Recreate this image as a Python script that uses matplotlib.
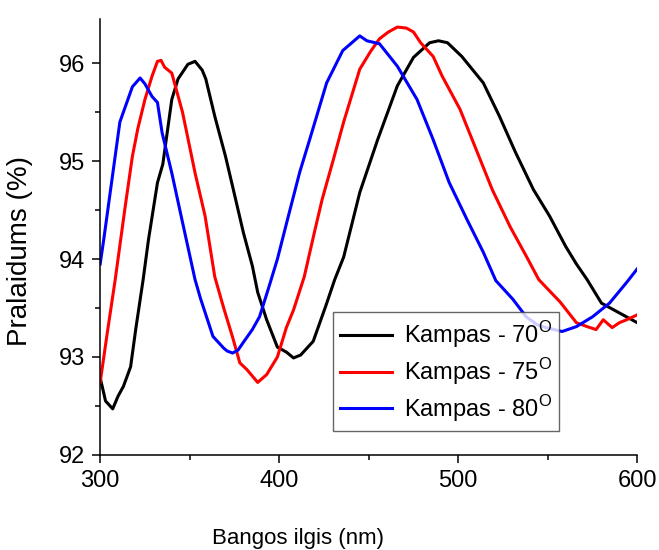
import matplotlib
matplotlib.use("Agg")
import matplotlib.pyplot as plt
from matplotlib.ticker import MultipleLocator

plt.rcParams['font.family'] = ['Liberation Sans', 'DejaVu Sans']
plt.rcParams['mathtext.fontset'] = 'custom'
plt.rcParams['mathtext.rm'] = 'Liberation Sans'

# Kampas - 70
x70 = [300, 303, 307, 310, 313, 317, 320, 324, 327, 332, 335, 340, 343.5, 349, 353, 357, 359, 364, 370, 374,
       380, 385, 388, 393, 399, 404, 408, 412, 419, 426, 431, 436, 445, 455, 466, 475, 484, 489, 494, 502,
       514, 523, 532, 542, 551, 560, 566, 572, 580, 590, 600]
y70 = [92.79, 92.55, 92.47, 92.6, 92.7, 92.9, 93.3, 93.79, 94.2, 94.78, 94.97, 95.63, 95.84, 95.99, 96.02,
       95.93, 95.84, 95.46, 95.05, 94.74, 94.27, 93.93, 93.66, 93.38, 93.1, 93.05, 92.99, 93.02, 93.16, 93.52,
       93.79, 94.02, 94.68, 95.22, 95.77, 96.06, 96.21, 96.23, 96.21, 96.07, 95.8, 95.46, 95.09, 94.71, 94.44,
       94.13, 93.95, 93.79, 93.55, 93.45, 93.35]

# Kampas - 75
x75 = [300, 304, 308.4, 314, 318, 321, 325, 329, 332, 334, 336, 340, 346, 353, 358.6, 364, 369, 374, 378,
       382, 388, 393, 399, 404, 408, 414, 420, 424, 430, 436, 445, 451, 456, 461, 466, 471, 475, 479, 486,
       491, 501, 510, 519, 529, 538, 545, 557, 566, 572, 577, 581, 586, 590, 594, 600]
y75 = [92.74, 93.25, 93.79, 94.54, 95.05, 95.33, 95.63, 95.87, 96.02, 96.03, 95.96, 95.9, 95.5, 94.88, 94.44,
       93.82, 93.5, 93.2, 92.94, 92.87, 92.74, 92.82, 93.0, 93.3, 93.48, 93.82, 94.3, 94.61, 95.0, 95.4,
       95.94, 96.12, 96.25, 96.32, 96.37, 96.36, 96.32, 96.21, 96.07, 95.87, 95.53, 95.12, 94.71, 94.33,
       94.03, 93.79, 93.56, 93.35, 93.31, 93.28, 93.38, 93.3, 93.35, 93.38, 93.43]

# Kampas - 80
x80 = [300, 302, 305.6, 311, 318, 322.3, 325, 329, 332, 334.6, 340, 345.7, 353, 356, 363, 369, 371, 374, 377,
       380, 385, 389, 394, 399, 405, 411.5, 417, 426.5, 435.5, 445, 449, 456, 466, 477, 486, 495, 505, 514,
       521, 530.5, 538, 544, 549, 558, 566, 575, 584.5, 594, 600]
y80 = [93.95, 94.2, 94.68, 95.4, 95.76, 95.85, 95.79, 95.66, 95.6, 95.29, 94.88, 94.4, 93.79, 93.6, 93.21,
       93.09, 93.06, 93.04, 93.07, 93.15, 93.28, 93.41, 93.7, 94.0, 94.43, 94.89, 95.22, 95.8, 96.13, 96.28,
       96.23, 96.2, 95.97, 95.63, 95.22, 94.78, 94.4, 94.07, 93.78, 93.59, 93.41, 93.33, 93.3, 93.26, 93.31,
       93.41, 93.55, 93.76, 93.9]

labels = ['Kampas - 70$^\\mathrm{O}$', 'Kampas - 75$^\\mathrm{O}$', 'Kampas - 80$^\\mathrm{O}$']

fig = plt.figure(figsize=(6.59, 5.5), dpi=100)
ax = fig.add_axes([0.152, 0.173, 0.815, 0.792])

ax.plot(x70, y70, color='black', lw=2.2, label=labels[0])
ax.plot(x75, y75, color='red', lw=2.2, label=labels[1])
ax.plot(x80, y80, color='blue', lw=2.2, label=labels[2])

ax.set_xlim(300, 600)
ax.set_ylim(92, 96.45)
ax.xaxis.set_major_locator(MultipleLocator(100))
ax.xaxis.set_minor_locator(MultipleLocator(50))
ax.yaxis.set_major_locator(MultipleLocator(1))
ax.yaxis.set_minor_locator(MultipleLocator(0.5))

for s in ['top', 'right']:
    ax.spines[s].set_visible(False)
for s in ['left', 'bottom']:
    ax.spines[s].set_linewidth(1.1)

ax.tick_params(which='major', direction='out', length=6, width=1.1, labelsize=17, pad=5)
ax.tick_params(which='minor', direction='out', length=3.5, width=1.1)

ax.set_xlabel('Bangos ilgis (nm)', fontsize=16)
ax.set_ylabel('Pralaidums (%)', fontsize=20)
ax.xaxis.set_label_coords(0.369, -0.167)
ax.yaxis.set_label_coords(-0.125, 0.468)

leg = ax.legend(loc='lower right', bbox_to_anchor=(0.855, 0.055), fontsize=17, frameon=True, fancybox=False,
                handlelength=2.2, handletextpad=0.5, borderpad=0.3, labelspacing=0.25, borderaxespad=0)
leg.get_frame().set_edgecolor('#404040')
leg.get_frame().set_linewidth(1.0)

fig.savefig('out.png', dpi=100)
